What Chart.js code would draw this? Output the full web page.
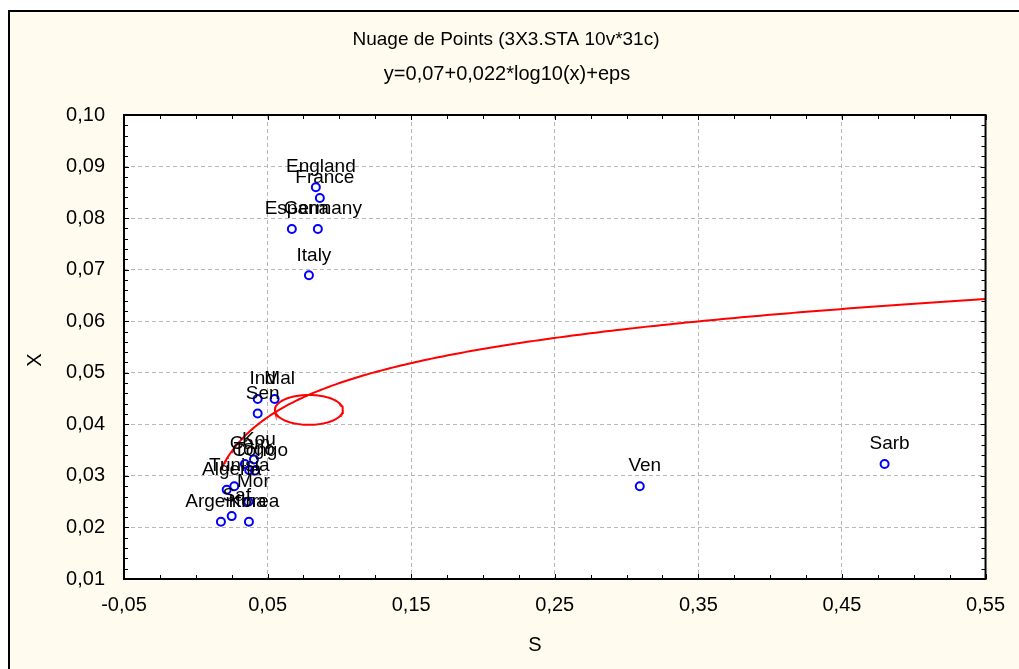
<!DOCTYPE html>
<html>
<head>
<meta charset="utf-8">
<script src="https://cdn.jsdelivr.net/npm/chart.js@4.4.0/dist/chart.umd.min.js"></script>
<style>
  html, body { margin: 0; padding: 0; background: #fff; }
  #wrap { width: 1019px; height: 669px; }
</style>
</head>
<body>
<div id="wrap"><canvas id="chart" width="1019" height="669"></canvas></div>
<script>
// Nuage de points S / X with log10 fit and mean ellipse
const names = ['England', 'France', 'Espana', 'Germany', 'Italy', 'Ind', 'Mal', 'Sen',
  'Kou', 'Cam', 'Togo', 'Congo', 'Tunisia', 'Algeria', 'Mor', 'Saf', 'Argentina', 'Korea',
  'Ven', 'Sarb'];
const sValues = [0.0836, 0.0864, 0.0669, 0.0850, 0.0788, 0.0431, 0.0549, 0.0431,
  0.0405, 0.0342, 0.0372, 0.0412, 0.0268, 0.0215, 0.0366, 0.0250, 0.0175, 0.0370,
  0.3092, 0.4797];
const xValues = [0.0860, 0.0839, 0.0779, 0.0779, 0.0689, 0.0449, 0.0449, 0.0421,
  0.0332, 0.0323, 0.0311, 0.0310, 0.0280, 0.0273, 0.0250, 0.0222, 0.0211, 0.0211,
  0.0280, 0.0323];

// fit y = a + b*log10(x), from the subtitle
const fitA = 0.07;
const fitB = 0.022;
// ellipse around the mean
const ellipseCenter = [0.0788, 0.0428];
const ellipseRadius = [0.0237, 0.0029];

const titleText = 'Nuage de Points (3X3.STA 10v*31c)';
const subtitleText = 'y=0,07+0,022*log10(x)+eps';
const xTitle = 'S';
const yTitle = 'X';

const FONT = "'Liberation Sans', Arial, sans-serif";

const points = sValues.map((s, i) => ({ x: s, y: xValues[i] }));

const fitPoints = [];
const sMin = Math.min(...sValues);
for (let i = 0; i <= 200; i++) {
  const s = sMin + (0.55 - sMin) * Math.pow(i / 200, 2);
  fitPoints.push({ x: s, y: fitA + fitB * Math.log10(s) });
}

const ellipsePoints = [];
for (let i = 0; i <= 120; i++) {
  const t = i / 120 * Math.PI * 2;
  ellipsePoints.push({
    x: ellipseCenter[0] + ellipseRadius[0] * Math.cos(t),
    y: ellipseCenter[1] + ellipseRadius[1] * Math.sin(t)
  });
}

const isMajorX = v => Math.abs((v + 0.05) / 0.1 - Math.round((v + 0.05) / 0.1)) < 1e-6;
const isMajorY = v => Math.abs(v * 100 - Math.round(v * 100)) < 1e-6;
const fmt = v => v.toFixed(2).replace('.', ',');

const framePlugin = {
  id: 'frame',
  beforeDraw(chart) {
    const { ctx, chartArea: a } = chart;
    ctx.save();
    ctx.fillStyle = '#ffffff';
    ctx.fillRect(0, 0, chart.width, chart.height);
    ctx.fillStyle = '#fffcef';
    ctx.fillRect(9, 11, chart.width, chart.height);
    ctx.strokeStyle = '#000';
    ctx.lineWidth = 2;
    ctx.beginPath();
    ctx.moveTo(9, chart.height + 2);
    ctx.lineTo(9, 11);
    ctx.lineTo(chart.width + 2, 11);
    ctx.stroke();
    ctx.fillStyle = '#ffffff';
    ctx.fillRect(a.left, a.top, a.right - a.left, a.bottom - a.top);
    ctx.restore();
  },
  afterDraw(chart) {
    const { ctx, chartArea: a } = chart;
    const xs = chart.scales.x, ys = chart.scales.y;
    ctx.save();
    // inward tick marks on all four sides
    ctx.strokeStyle = '#000';
    ctx.lineWidth = 1;
    ctx.beginPath();
    xs.ticks.forEach(t => {
      const px = Math.round(xs.getPixelForValue(t.value)) + 0.5;
      const len = isMajorX(t.value) ? 5 : 4;
      ctx.moveTo(px, a.bottom); ctx.lineTo(px, a.bottom - len);
      ctx.moveTo(px, a.top); ctx.lineTo(px, a.top + len);
    });
    ys.ticks.forEach(t => {
      const py = Math.round(ys.getPixelForValue(t.value)) + 0.5;
      const len = isMajorY(t.value) ? 5 : 4;
      ctx.moveTo(a.left, py); ctx.lineTo(a.left + len, py);
      ctx.moveTo(a.right, py); ctx.lineTo(a.right - len, py);
    });
    ctx.stroke();
    ctx.lineWidth = 2;
    ctx.strokeRect(a.left, a.top, a.right - a.left, a.bottom - a.top);

    // titles
    ctx.fillStyle = '#000';
    ctx.textAlign = 'center';
    ctx.textBaseline = 'middle';
    ctx.font = '19px ' + FONT;
    ctx.fillText(titleText, 506, 40);
    ctx.font = '20px ' + FONT;
    ctx.fillText(subtitleText, 507, 74);
    ctx.font = '20px ' + FONT;
    ctx.fillText(xTitle, 535, 645);
    ctx.save();
    ctx.translate(35, 360);
    ctx.rotate(-Math.PI / 2);
    ctx.fillText(yTitle, 0, 0);
    ctx.restore();
    ctx.restore();
  },
  afterDatasetsDraw(chart) {
    const { ctx } = chart;
    const meta = chart.getDatasetMeta(0);
    ctx.save();
    ctx.fillStyle = '#000';
    ctx.font = '19px ' + FONT;
    ctx.textAlign = 'center';
    ctx.textBaseline = 'middle';
    meta.data.forEach((el, i) => {
      ctx.fillText(names[i], el.x + 5, el.y - 20);
    });
    ctx.restore();
  }
};

new Chart(document.getElementById('chart'), {
  type: 'scatter',
  data: {
    datasets: [
      {
        label: 'Pays',
        data: points,
        pointStyle: 'circle',
        pointRadius: 4,
        pointBorderWidth: 2,
        pointBorderColor: '#0000ff',
        pointBackgroundColor: 'rgba(255,255,255,0)',
        showLine: false,
        order: 0
      },
      {
        label: 'fit',
        data: fitPoints,
        showLine: true,
        borderColor: '#ff0000',
        borderWidth: 2,
        pointRadius: 0,
        tension: 0,
        order: 1
      },
      {
        label: 'ellipse',
        data: ellipsePoints,
        showLine: true,
        borderColor: '#ff0000',
        borderWidth: 2,
        pointRadius: 0,
        tension: 0,
        order: 1
      }
    ]
  },
  options: {
    responsive: false,
    animation: false,
    events: [],
    layout: { padding: { left: 0, right: 33, top: 115, bottom: 0 } },
    plugins: {
      legend: { display: false },
      tooltip: { enabled: false },
      title: { display: false }
    },
    scales: {
      x: {
        type: 'linear',
        min: -0.05,
        max: 0.55,
        afterFit: s => { s.height = 90; },
        border: { display: false, dash: [4, 3] },
        grid: {
          drawTicks: false,
          color: c => (c.tick && isMajorX(c.tick.value) ? '#b8b8b8' : 'rgba(0,0,0,0)'),
          lineWidth: 1
        },
        ticks: {
          stepSize: 0.025,
          autoSkip: false,
          maxRotation: 0,
          padding: 14,
          color: '#000',
          font: { family: FONT, size: 20 },
          callback: v => (isMajorX(v) ? fmt(v) : '')
        }
      },
      y: {
        type: 'linear',
        min: 0.01,
        max: 0.10,
        afterFit: s => { s.width = 124; },
        border: { display: false, dash: [4, 3] },
        grid: {
          drawTicks: false,
          color: c => (c.tick && isMajorY(c.tick.value) ? '#b8b8b8' : 'rgba(0,0,0,0)'),
          lineWidth: 1
        },
        ticks: {
          stepSize: 0.002,
          autoSkip: false,
          padding: 19,
          color: '#000',
          font: { family: FONT, size: 20 },
          callback: v => (isMajorY(v) ? fmt(v) : '')
        }
      }
    }
  },
  plugins: [framePlugin]
});
</script>
</body>
</html>
